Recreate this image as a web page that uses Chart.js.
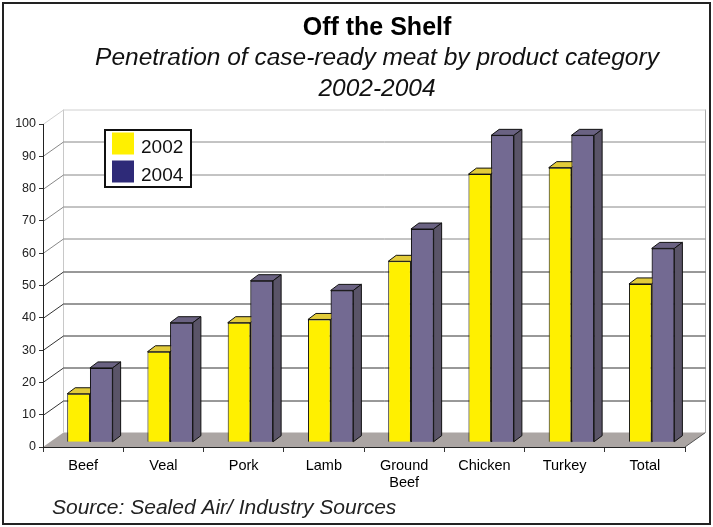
<!DOCTYPE html>
<html>
<head>
<meta charset="utf-8">
<script src="https://cdn.jsdelivr.net/npm/chart.js@4.4.1/dist/chart.umd.min.js"></script>
<style>
  html, body { margin: 0; padding: 0; background: #fff; }
  #wrap { width: 713px; height: 527px; }
</style>
</head>
<body>
<div id="wrap"><canvas id="myChart" width="713" height="527"></canvas></div>
<script>
// Chart data

const categories = ['Beef', 'Veal', 'Pork', 'Lamb', ['Ground', 'Beef'], 'Chicken', 'Turkey', 'Total'];
const values2002 = [15, 28, 37, 38, 56, 83, 85, 49];
const values2004 = [23, 37, 50, 47, 66, 95, 95, 60];
const seriesLabels = ['2002', '2004'];
const yTicks = [0, 10, 20, 30, 40, 50, 60, 70, 80, 90, 100];

const titleText = 'Off the Shelf';
const subtitleLines = ['Penetration of case-ready meat by product category', '2002-2004'];
const sourceText = 'Source: Sealed Air/ Industry Sources';

const FONT = 'Arial, "Liberation Sans", sans-serif';

// 3D look
const wallDX = 20.5, wallDY = -14.5;     // depth of the floor / walls
const barDX = 8, barDY = -6;             // depth of each bar
const shiftDX = 6.8, shiftDY = -4.8;     // bars sit a bit back from the front edge

const faces = [
  { front: '#FFF000', top: '#E2CB3A', side: '#C9B630', legend: '#FFF000' },
  { front: '#736A92', top: '#6A6282', side: '#5A5468', legend: '#2E2A78' }
];

// Walls, floor, titles, border
const backdropPlugin = {
  id: 'backdrop',
  beforeDraw(chart) {
    const ctx = chart.ctx;
    const y = chart.scales.y;
    const left = chart.chartArea.left, right = chart.chartArea.right;
    const y0 = y.getPixelForValue(0);
    const yTop = y.getPixelForValue(100);

    ctx.save();
    ctx.fillStyle = '#fff';
    ctx.fillRect(0, 0, chart.width, chart.height);

    // floor
    ctx.fillStyle = '#ABA5A3';
    ctx.beginPath();
    ctx.moveTo(left, y0);
    ctx.lineTo(right, y0);
    ctx.lineTo(right + wallDX, y0 + wallDY);
    ctx.lineTo(left + wallDX, y0 + wallDY);
    ctx.closePath();
    ctx.fill();
    ctx.strokeStyle = '#555';
    ctx.lineWidth = 1;
    ctx.beginPath();
    ctx.moveTo(right, y0);
    ctx.lineTo(right + wallDX, y0 + wallDY);
    ctx.stroke();

    // walls edges
    ctx.strokeStyle = '#C8C8C8';
    ctx.beginPath();
    ctx.moveTo(left + wallDX, yTop + wallDY);
    ctx.lineTo(left + wallDX, y0 + wallDY);
    ctx.stroke();
    ctx.strokeStyle = '#AAAAAA';
    ctx.beginPath();
    ctx.moveTo(right + wallDX, yTop + wallDY);
    ctx.lineTo(right + wallDX, y0 + wallDY);
    ctx.stroke();

    // gridlines on back and left wall
    yTicks.forEach(v => {
      if (v === 0) return;
      const py = Math.round(y.getPixelForValue(v)) + 0.5;
      ctx.strokeStyle = v === 100 ? '#D0D0D0' : (v <= 50 ? '#333' : '#888');
      ctx.beginPath();
      ctx.moveTo(left, py);
      ctx.lineTo(left + wallDX, py + wallDY);
      ctx.lineTo(right + wallDX, py + wallDY);
      ctx.stroke();
    });

    // titles
    ctx.fillStyle = '#000';
    ctx.textAlign = 'center';
    ctx.textBaseline = 'alphabetic';
    ctx.font = 'bold 25px ' + FONT;
    ctx.fillText(titleText, 377, 35);
    ctx.font = 'italic 24.5px ' + FONT;
    ctx.fillStyle = '#111';
    ctx.fillText(subtitleLines[0], 377, 65);
    ctx.fillText(subtitleLines[1], 377, 96);

    ctx.textAlign = 'left';
    ctx.font = 'italic 21px ' + FONT;
    ctx.fillStyle = '#222';
    ctx.fillText(sourceText, 52, 514);

    // outer border
    ctx.strokeStyle = '#222';
    ctx.lineWidth = 2;
    ctx.strokeRect(3, 3, chart.width - 6, chart.height - 6);
    ctx.restore();
  },
  afterDraw(chart) {
    // legend box
    const ctx = chart.ctx;
    ctx.save();
    ctx.fillStyle = '#fff';
    ctx.fillRect(105, 130, 86, 57);
    ctx.strokeStyle = '#111';
    ctx.lineWidth = 2;
    ctx.strokeRect(105, 130, 86, 57);
    ctx.font = '19px ' + FONT;
    ctx.textAlign = 'left';
    ctx.textBaseline = 'alphabetic';
    seriesLabels.forEach((lab, i) => {
      const top = 132.5 + i * 28;
      ctx.fillStyle = faces[i].legend;
      ctx.fillRect(112, top, 22, 22);
      ctx.fillStyle = '#111';
      ctx.fillText(lab, 141, top + 20);
    });
    ctx.restore();
  }
};

function drawFaces(ctx, bar, f) {
  const p = bar.getProps(['x', 'y', 'base', 'width'], true);
  const l = p.x - p.width / 2, r = p.x + p.width / 2;
  ctx.lineWidth = 1;
  ctx.strokeStyle = '#111';
  // top
  ctx.fillStyle = f.top;
  ctx.beginPath();
  ctx.moveTo(l, p.y);
  ctx.lineTo(l + barDX, p.y + barDY);
  ctx.lineTo(r + barDX, p.y + barDY);
  ctx.lineTo(r, p.y);
  ctx.closePath();
  ctx.fill();
  ctx.stroke();
  // side
  ctx.fillStyle = f.side;
  ctx.beginPath();
  ctx.moveTo(r, p.y);
  ctx.lineTo(r + barDX, p.y + barDY);
  ctx.lineTo(r + barDX, p.base + barDY);
  ctx.lineTo(r, p.base);
  ctx.closePath();
  ctx.fill();
  ctx.stroke();
}

// Shift bars back and add top / side faces, left series first
const bars3dPlugin = {
  id: 'bars3d',
  beforeDatasetDraw(chart) {
    chart.ctx.save();
    chart.ctx.translate(shiftDX, shiftDY);
  },
  afterDatasetDraw(chart) {
    chart.ctx.restore();
  },
  afterDatasetsDraw(chart) {
    const ctx = chart.ctx;
    const metas = [chart.getDatasetMeta(0), chart.getDatasetMeta(1)];
    ctx.save();
    ctx.translate(shiftDX, shiftDY);
    categories.forEach((c, i) => {
      drawFaces(ctx, metas[0].data[i], faces[0]);
      metas[1].data[i].draw(ctx);
      drawFaces(ctx, metas[1].data[i], faces[1]);
    });
    ctx.restore();
  }
};

const ctx = document.getElementById('myChart');

new Chart(ctx, {
  type: 'bar',
  data: {
    labels: categories,
    datasets: [
      {
        label: seriesLabels[0],
        data: values2002,
        backgroundColor: faces[0].front,
        borderColor: '#111',
        borderWidth: 1
      },
      {
        label: seriesLabels[1],
        data: values2004,
        backgroundColor: faces[1].front,
        borderColor: '#111',
        borderWidth: 1
      }
    ]
  },
  options: {
    responsive: false,
    animation: false,
    events: [],
    layout: { padding: { left: 0, right: 28, top: 124, bottom: 0 } },
    categoryPercentage: 0.566,
    barPercentage: 1.0,
    plugins: {
      legend: { display: false },
      title: { display: false },
      tooltip: { enabled: false }
    },
    scales: {
      x: {
        offset: true,
        afterFit: s => { s.height = 80; },
        grid: { drawOnChartArea: false, offset: true, tickLength: 5, color: '#333' },
        border: { color: '#222', width: 1 },
        ticks: { color: '#000', font: { family: FONT, size: 14.5 }, padding: 5, maxRotation: 0 }
      },
      y: {
        min: 0,
        max: 100,
        afterFit: s => { s.width = 43; },
        afterBuildTicks: s => { s.ticks = yTicks.map(v => ({ value: v })); },
        grid: { drawOnChartArea: false, tickLength: 4, color: '#333' },
        border: { color: '#222', width: 1 },
        ticks: { color: '#222', font: { family: FONT, size: 12.5 }, padding: 3 }
      }
    }
  },
  plugins: [backdropPlugin, bars3dPlugin]
});
</script>
</body>
</html>
